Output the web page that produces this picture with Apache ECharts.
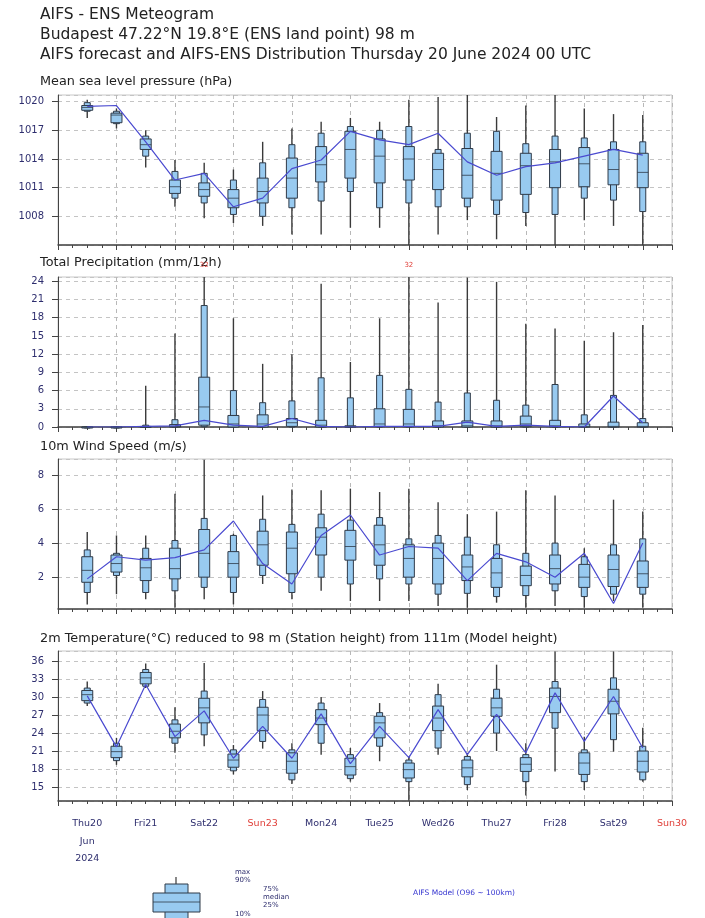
<!DOCTYPE html>
<html>
<head>
<meta charset="utf-8">
<script src="https://cdn.jsdelivr.net/npm/echarts@6/dist/echarts.min.js"></script>
<style>
  html, body { margin: 0; padding: 0; background: #fff; }
  #chart { width: 705px; height: 918px; }
</style>
</head>
<body>
<div id="chart"></div>
<script>
// forecast steps, hours after Thu 20 June 2024 00 UTC
const steps = [12, 24, 36, 48, 60, 72, 84, 96, 108, 120, 132, 144, 156, 168, 180, 192, 204, 216, 228, 240];
const days = ['Thu20', 'Fri21', 'Sat22', 'Sun23', 'Mon24', 'Tue25', 'Wed26', 'Thu27', 'Fri28', 'Sat29', 'Sun30'];

// mean sea level pressure (hPa)
const mslMin = [1018.3, 1017.2, 1013.1, 1009.0, 1007.8, 1007.3, 1007.0, 1006.1, 1006.1, 1006.8, 1006.8, 1004.8, 1006.1, 1007.6, 1005.6, 1007.0, 1004.8, 1007.6, 1007.0, 1004.8];
const mslP10 = [1019.0, 1017.7, 1014.3, 1009.9, 1009.4, 1008.2, 1008.0, 1008.9, 1009.6, 1010.6, 1008.9, 1009.4, 1009.0, 1009.0, 1008.2, 1008.4, 1008.2, 1009.9, 1009.7, 1008.5];
const mslP25 = [1019.1, 1017.8, 1015.0, 1010.4, 1010.1, 1008.9, 1009.4, 1009.9, 1011.6, 1012.0, 1011.5, 1011.8, 1010.8, 1009.9, 1009.7, 1010.3, 1011.0, 1011.1, 1011.3, 1011.0];
const mslMed = [1019.4, 1018.6, 1015.5, 1011.1, 1010.8, 1009.9, 1010.6, 1012.0, 1013.4, 1015.0, 1014.3, 1014.0, 1012.9, 1012.3, 1012.5, 1013.3, 1013.7, 1013.5, 1012.9, 1012.6];
const mslP75 = [1019.6, 1018.8, 1016.1, 1011.8, 1011.5, 1010.8, 1012.0, 1014.1, 1015.3, 1016.9, 1016.1, 1015.3, 1014.6, 1015.1, 1014.8, 1014.6, 1015.0, 1015.2, 1015.0, 1014.6];
const mslP90 = [1019.9, 1019.0, 1016.4, 1012.7, 1012.5, 1011.8, 1013.6, 1015.5, 1016.7, 1017.4, 1017.0, 1017.4, 1015.0, 1016.7, 1016.9, 1015.6, 1016.4, 1016.2, 1015.8, 1015.8];
const mslMax = [1020.2, 1019.3, 1017.0, 1013.9, 1013.6, 1012.9, 1015.8, 1017.2, 1017.9, 1018.3, 1017.9, 1020.2, 1020.5, 1020.7, 1018.4, 1019.6, 1020.7, 1019.3, 1018.7, 1018.6];
const mslHres = [1019.5, 1019.6, 1015.8, 1011.8, 1012.5, 1009.0, 1009.9, 1013.0, 1013.9, 1016.9, 1016.0, 1015.5, 1016.7, 1013.7, 1012.3, 1013.2, 1013.6, 1014.3, 1015.0, 1014.4];

// total precipitation (mm/12h)
const tpMin = [0, 0, 0, 0, 0, 0, 0, 0, 0, 0, 0, 0, 0, 0, 0, 0, 0, 0, 0, 0];
const tpP10 = [0, 0, 0, 0, 0.05, 0, 0, 0, 0, 0, 0, 0, 0, 0, 0, 0, 0, 0, 0, 0];
const tpP25 = [0, 0, 0, 0, 0.3, 0, 0, 0.1, 0, 0, 0.05, 0.05, 0, 0, 0, 0.05, 0, 0, 0, 0];
const tpMed = [0, 0, 0, 0.1, 3.3, 0.5, 0.5, 0.7, 0.3, 0.05, 0.5, 0.5, 0.2, 0.2, 0.2, 0.5, 0.2, 0.1, 0.1, 0.1];
const tpP75 = [0, 0, 0.1, 0.4, 8.2, 1.9, 2.0, 1.4, 1.1, 0.2, 3.0, 2.9, 1.0, 1.0, 1.0, 1.8, 1.1, 0.5, 0.8, 0.7];
const tpP90 = [0, 0, 0.3, 1.2, 20.0, 6.0, 4.0, 4.3, 8.1, 4.8, 8.5, 6.2, 4.1, 5.6, 4.4, 3.6, 7.0, 2.0, 5.2, 1.4];
const tpMax = [0.1, 0.1, 6.8, 15.4, 32, 17.9, 10.4, 12.0, 23.6, 10.7, 17.9, 32, 20.5, 24.6, 23.9, 17.0, 16.2, 14.2, 15.6, 16.8];
const tpHres = [0, 0, 0.1, 0.2, 1.1, 0.3, 0.1, 1.4, 0.1, 0, 0.1, 0.1, 0.1, 0.8, 0.1, 0.3, 0.1, 0, 5.1, 0.7];

// 10m wind speed (m/s)
const wsMin = [0.4, 1.0, 0.7, 0.2, 0.7, 0.4, 1.6, 0.7, 1.2, 0.6, 0.6, 0.6, 0.3, 0.2, 0.5, 0.2, 0.3, 0.2, 0.6, 0.2];
const wsP10 = [1.1, 2.1, 1.1, 1.2, 1.4, 1.1, 2.1, 1.1, 2.0, 1.6, 1.9, 1.6, 1.0, 1.05, 0.86, 0.92, 1.2, 0.86, 1.0, 1.0];
const wsP25 = [1.7, 2.3, 1.8, 1.9, 2.0, 2.0, 2.7, 2.2, 3.3, 3.0, 2.7, 2.0, 1.6, 1.8, 1.4, 1.5, 1.6, 1.4, 1.45, 1.4];
const wsMed = [2.4, 2.8, 2.55, 2.5, 3.4, 2.8, 3.9, 3.7, 4.35, 3.8, 3.9, 3.1, 3.1, 2.6, 2.25, 2.1, 2.5, 2.0, 2.45, 2.2];
const wsP75 = [3.2, 3.3, 3.1, 3.7, 4.8, 3.5, 4.7, 4.65, 4.9, 4.75, 5.05, 3.9, 4.0, 3.3, 3.1, 2.65, 3.3, 2.75, 3.3, 2.95];
const wsP90 = [3.6, 3.4, 3.7, 4.15, 5.45, 4.45, 5.4, 5.1, 5.7, 5.35, 5.5, 4.25, 4.45, 4.35, 3.9, 3.4, 4.0, 3.2, 3.9, 4.25];
const wsMax = [4.65, 4.45, 4.45, 6.9, 8.9, 4.55, 6.8, 7.15, 7.1, 7.2, 7.0, 7.2, 6.4, 5.7, 5.85, 7.1, 6.8, 3.7, 6.55, 5.85];
const wsHres = [1.9, 3.2, 3.0, 3.15, 3.6, 5.3, 2.8, 1.6, 4.45, 5.65, 3.3, 3.8, 3.7, 1.8, 3.4, 2.9, 2.0, 3.4, 0.45, 4.0];

// 2m temperature (°C)
const t2Min = [28.6, 18.8, 31.6, 20.8, 21.9, 17.2, 21.5, 15.6, 20.5, 16.0, 19.4, 12.8, 20.5, 14.6, 21.1, 13.7, 17.7, 14.6, 21.0, 16.0];
const t2P10 = [29.1, 19.5, 31.9, 22.4, 23.8, 17.8, 22.7, 16.3, 22.4, 16.5, 21.9, 16.0, 21.6, 15.5, 24.1, 16.0, 24.9, 16.0, 23.0, 16.3];
const t2P25 = [29.5, 20.0, 32.3, 23.3, 25.8, 18.4, 24.5, 17.4, 25.5, 17.1, 23.3, 16.6, 24.5, 16.8, 26.9, 17.7, 27.5, 17.2, 27.3, 17.6];
const t2Med = [30.5, 21.0, 33.3, 24.4, 28.3, 19.6, 27.1, 19.4, 26.6, 18.5, 25.8, 18.0, 26.6, 18.3, 28.3, 18.9, 30.2, 19.1, 29.4, 19.4];
const t2P75 = [31.2, 21.9, 34.2, 25.6, 29.9, 20.6, 28.4, 20.8, 28.0, 19.9, 26.9, 19.1, 28.6, 19.6, 29.9, 20.0, 31.6, 20.8, 31.4, 21.1];
const t2P90 = [31.6, 22.4, 34.7, 26.3, 31.1, 21.3, 29.7, 21.3, 29.1, 20.5, 27.5, 19.6, 30.5, 20.2, 31.4, 20.5, 32.7, 21.3, 33.3, 21.9];
const t2Max = [32.7, 23.3, 35.7, 28.4, 35.8, 22.1, 31.1, 22.4, 30.1, 21.6, 29.1, 20.2, 32.3, 20.8, 35.5, 22.4, 37.7, 23.5, 37.7, 25.0];
const t2Hres = [30.3, 21.8, 32.2, 23.5, 27.8, 19.9, 25.2, 19.9, 27.3, 19.0, 25.2, 20.0, 28.0, 20.5, 27.2, 20.8, 30.8, 22.7, 30.2, 21.6];

const FONT = 'DejaVu Sans';
const NAVY = '#2e2e6e';
const RED = '#e0403a';
const BOX_FILL = '#98caf0';
const BOX_LINE = '#2f3a48';
const HRES_COLOR = '#4a4ad0';

const panelTops = [95, 277, 459, 651];
const PANEL_H = 150;

function boxRows(mn, p10, p25, md, p75, p90, mx) {
  return steps.map((h, i) => [h, mn[i], p10[i], p25[i], md[i], p75[i], p90[i], mx[i]]);
}

function lineRows(vals) {
  return steps.map((h, i) => [h, vals[i]]);
}

// draws one ensemble box: whisker min-max, narrow 10-90 box, wide 25-75 box, median
function renderBox(params, api) {
  const h = api.value(0);
  const pts = [1, 2, 3, 4, 5, 6, 7].map(k => api.coord([h, api.value(k)]));
  const cs = params.coordSys;
  const top = cs.y, bot = cs.y + cs.height;
  const cl = y => Math.min(bot, Math.max(top, y));
  const cx = pts[0][0];
  const [yMin, y10, y25, yMed, y75, y90, yMax] = pts.map(p => cl(p[1]));
  const children = [
    { type: 'line', shape: { x1: cx, y1: yMin, x2: cx, y2: yMax }, style: { stroke: '#3a3a3a', lineWidth: 1.4 } },
    { type: 'rect', shape: { x: cx - 3, y: y90, width: 6, height: Math.max(y10 - y90, 1) },
      style: { fill: BOX_FILL, stroke: BOX_LINE, lineWidth: 1 } },
    { type: 'rect', shape: { x: cx - 5.5, y: y75, width: 11, height: Math.max(y25 - y75, 1) },
      style: { fill: BOX_FILL, stroke: BOX_LINE, lineWidth: 1 } },
    { type: 'line', shape: { x1: cx - 5.5, y1: yMed, x2: cx + 5.5, y2: yMed }, style: { stroke: BOX_LINE, lineWidth: 0.8 } }
  ];
  if (pts[6][1] < top) { // max above the panel: write its value in red
    children.push({ type: 'text', x: cx, y: top - 12,
      style: { text: String(api.value(7)), fill: RED, font: '7px ' + FONT, align: 'center', verticalAlign: 'middle' } });
  }
  return { type: 'group', children };
}

const panels = [
  { title: 'Mean sea level pressure (hPa)', rows: boxRows(mslMin, mslP10, mslP25, mslMed, mslP75, mslP90, mslMax), hres: mslHres,
    y: { min: 1005, max: 1020.7, interval: 3 } },
  { title: 'Total Precipitation (mm/12h)', rows: boxRows(tpMin, tpP10, tpP25, tpMed, tpP75, tpP90, tpMax), hres: tpHres,
    y: { min: 0, max: 24.7, interval: 3 } },
  { title: '10m Wind Speed (m/s)', rows: boxRows(wsMin, wsP10, wsP25, wsMed, wsP75, wsP90, wsMax), hres: wsHres,
    y: { min: 0.13, max: 8.94, splitNumber: 4 } },
  { title: '2m Temperature(°C) reduced to 98 m (Station height) from 111m (Model height)', rows: boxRows(t2Min, t2P10, t2P25, t2Med, t2P75, t2P90, t2Max), hres: t2Hres,
    y: { min: 12.77, max: 37.78, splitNumber: 8 } }
];

const chart = echarts.init(document.getElementById('chart'));

const grids = panels.map((p, i) => ({
  left: 58, right: 33, top: panelTops[i], height: PANEL_H,
  show: true, borderColor: '#c8c8c8', borderWidth: 1
}));

const xAxes = panels.map((p, i) => ({
  type: 'value', gridIndex: i, min: 0, max: 252, interval: 24,
  axisLine: { show: true, lineStyle: { color: '#444', width: 1.5 } },
  axisTick: { show: true, length: 5, lineStyle: { color: '#444' } },
  minorTick: { show: true, splitNumber: 4, length: 3, lineStyle: { color: '#444' } },
  axisLabel: { show: false },
  splitLine: { show: true, lineStyle: { type: [4, 4], color: '#b8b8b8' } }
}));

// day labels at 12 UTC under the last panel
xAxes.push({
  type: 'value', gridIndex: 3, min: 0, max: 252, interval: 12, position: 'bottom',
  axisLine: { show: false }, axisTick: { show: false }, splitLine: { show: false },
  axisLabel: {
    margin: 14, fontSize: 9.5, fontFamily: FONT, color: NAVY, lineHeight: 17.5,
    showMinLabel: true, showMaxLabel: true,
    formatter: v => {
      if (v % 24 !== 12) return '';
      const d = days[(v - 12) / 24];
      let s = d.startsWith('Sun') ? '{sun|' + d + '}' : d;
      if (v === 12) s += '\nJun\n2024';
      return s;
    },
    rich: { sun: { color: RED, fontSize: 9.5, fontFamily: FONT } }
  }
});

const yAxes = panels.map((p, i) => Object.assign({
  type: 'value', gridIndex: i,
  axisLine: { show: true, lineStyle: { color: '#444' } },
  axisTick: { show: true, length: 6, lineStyle: { color: '#444' } },
  axisLabel: { fontSize: 10, fontFamily: FONT, color: NAVY, margin: 14, showMinLabel: i === 1, showMaxLabel: false,
    formatter: v => String(v) },
  splitLine: { show: true, lineStyle: { type: [4, 4], color: '#c4c4c4' } }
}, p.y));

const series = [];
panels.forEach((p, i) => {
  series.push({
    type: 'custom', xAxisIndex: i, yAxisIndex: i, renderItem: renderBox,
    encode: { x: 0, y: [1, 2, 3, 4, 5, 6, 7] }, data: p.rows, z: 2
  });
  series.push({
    type: 'line', xAxisIndex: i, yAxisIndex: i, data: lineRows(p.hres), symbol: 'none',
    lineStyle: { color: HRES_COLOR, width: 1.2 }, z: 3
  });
});

const txt = (x, y, text, size, fill, extra) => ({
  type: 'text', x, y, silent: true,
  style: Object.assign({ text, font: size + 'px ' + FONT, fill, verticalAlign: 'middle' }, extra || {})
});

const graphic = [
  txt(40, 15, 'AIFS - ENS Meteogram', 15.5, '#222'),
  txt(40, 34.5, 'Budapest 47.22°N 19.8°E (ENS land point) 98 m', 15.5, '#222'),
  txt(40, 55, 'AIFS forecast and AIFS-ENS Distribution Thursday 20 June 2024 00 UTC', 15.5, '#222'),
  txt(40, 82, panels[0].title, 12.8, '#222'),
  txt(40, 263, panels[1].title, 12.8, '#222'),
  txt(40, 447, panels[2].title, 12.8, '#222'),
  txt(40, 639, panels[3].title, 12.8, '#222'),
  // box legend
  { type: 'line', shape: { x1: 176, y1: 877, x2: 176, y2: 884 }, style: { stroke: '#3a3a3a', lineWidth: 1.2 } },
  { type: 'rect', shape: { x: 165, y: 884, width: 23, height: 40 }, style: { fill: BOX_FILL, stroke: BOX_LINE, lineWidth: 1 } },
  { type: 'rect', shape: { x: 153, y: 893, width: 47, height: 19 }, style: { fill: BOX_FILL, stroke: BOX_LINE, lineWidth: 1 } },
  { type: 'line', shape: { x1: 153, y1: 902, x2: 200, y2: 902 }, style: { stroke: BOX_LINE, lineWidth: 0.8 } },
  txt(235, 872, 'max', 7, NAVY),
  txt(235, 880, '90%', 7, NAVY),
  txt(263, 889, '75%', 7, NAVY),
  txt(263, 897, 'median', 7, NAVY),
  txt(263, 905, '25%', 7, NAVY),
  txt(235, 914, '10%', 7, NAVY),
  txt(413, 893, 'AIFS Model (O96 ~ 100km)', 7.5, '#3434d0')
];

const option = {
  animation: false,
  backgroundColor: '#fff',
  grid: grids,
  xAxis: xAxes,
  yAxis: yAxes,
  series,
  graphic
};
option && chart.setOption(option);
</script>
</body>
</html>
